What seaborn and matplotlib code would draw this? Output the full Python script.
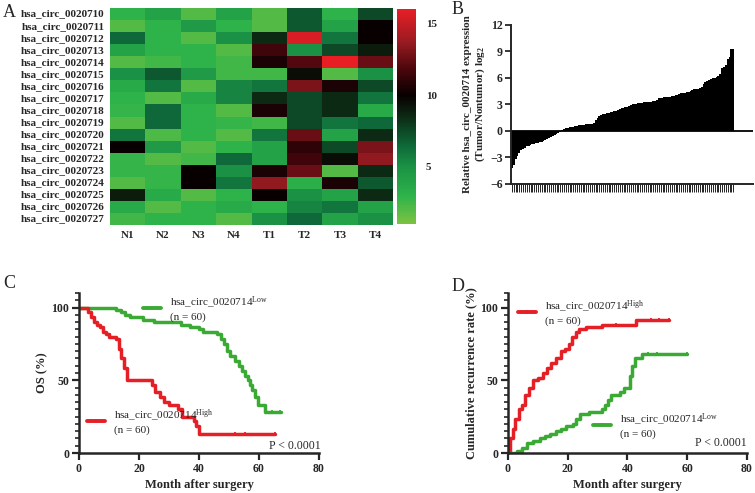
import numpy as np
import pandas as pd
import matplotlib
matplotlib.use("Agg")
import matplotlib.pyplot as plt
import seaborn as sns
from matplotlib.colors import LinearSegmentedColormap
from matplotlib.lines import Line2D
from matplotlib.ticker import MultipleLocator

# ---- data ----
circ_names = ['hsa_circ_00207%02d' % i for i in range(10, 28)]
samples = ['N1', 'N2', 'N3', 'N4', 'T1', 'T2', 'T3', 'T4']
expr = [
    [3.0, 4.0, 2.0, 4.0, 2.0, 7.0, 3.0, 7.5],
    [2.0, 3.0, 4.5, 3.0, 2.0, 7.0, 4.0, 10.0],
    [6.5, 3.0, 2.0, 5.0, 8.5, 15.5, 6.0, 10.0],
    [4.0, 3.0, 3.0, 2.0, 11.5, 5.0, 7.5, 9.0],
    [2.0, 2.5, 3.0, 2.5, 10.5, 12.0, 16.0, 12.5],
    [5.0, 7.0, 4.5, 2.5, 2.5, 9.5, 2.0, 5.0],
    [3.5, 6.0, 2.0, 5.5, 6.0, 13.0, 10.5, 7.5],
    [3.0, 2.0, 3.5, 5.5, 8.5, 7.5, 8.5, 6.0],
    [2.8, 6.5, 3.0, 2.0, 10.5, 7.5, 8.5, 3.5],
    [2.0, 6.5, 3.0, 2.8, 2.5, 7.5, 6.0, 6.5],
    [6.0, 2.2, 3.0, 2.0, 6.0, 12.5, 4.0, 8.5],
    [10.0, 4.5, 2.0, 3.0, 4.0, 11.0, 7.5, 13.0],
    [2.8, 2.0, 2.5, 6.5, 4.0, 11.5, 9.5, 13.5],
    [2.8, 2.8, 10.0, 5.0, 10.5, 12.5, 2.0, 8.5],
    [2.0, 2.8, 10.0, 6.0, 13.5, 3.2, 10.5, 7.0],
    [9.0, 3.5, 2.0, 3.0, 10.0, 5.0, 4.0, 8.5],
    [3.5, 2.0, 3.0, 3.5, 3.0, 5.5, 6.0, 4.0],
    [2.5, 3.0, 3.0, 2.0, 5.0, 6.5, 4.0, 5.0],
]

log2_ratio = [
    -4.2, -3.8, -3.2, -2.8, -2.5, -2.2, -2.0, -1.9, -1.75, -1.65,
    -1.55, -1.5, -1.45, -1.4, -1.35, -1.25, -1.2, -1.1, -1.0, -0.9,
    -0.8, -0.7, -0.55, -0.45, -0.35, -0.25, -0.1, 0.1, 0.2, 0.3,
    0.35, 0.4, 0.45, 0.5, 0.55, 0.6, 0.65, 0.7, 0.7, 0.72,
    0.74, 0.76, 0.78, 0.8, 0.9, 1.2, 1.5, 1.7, 1.85, 1.9,
    1.95, 2.0, 2.05, 2.1, 2.2, 2.25, 2.3, 2.4, 2.5, 2.55,
    2.6, 2.7, 2.75, 2.85, 2.95, 3.0, 3.05, 3.1, 3.15, 3.2,
    3.22, 3.25, 3.27, 3.3, 3.3, 3.32, 3.35, 3.45, 3.55, 3.7,
    3.75, 3.78, 3.8, 3.82, 3.85, 3.9, 3.95, 4.0, 4.05, 4.1,
    4.15, 4.25, 4.3, 4.35, 4.4, 4.45, 4.5, 4.6, 4.7, 4.72,
    4.75, 4.85, 5.0, 5.3, 5.5, 5.65, 5.8, 5.9, 5.95, 6.05,
    6.15, 6.25, 6.4, 7.1, 7.3, 7.5, 8.2, 8.4, 9.3, 9.3,
]

# overall survival (panel C)
os_low_t = [0, 12.5, 14, 15.5, 17, 21.5, 25, 34, 37, 40, 41.5, 46, 47.5, 48.3, 49.2,
            50.5, 52, 53.5, 54.5, 55.3, 56.3, 57, 57.7, 58.7, 59.7, 62, 67.5]
os_low_s = [100, 98.3, 96.7, 95, 93.3, 91.7, 90, 88.3, 86.7, 85, 83.3, 81.7, 78.3, 75, 70,
            66.7, 63.3, 60, 56.7, 53.3, 50, 46.7, 43.3, 38.3, 33.3, 28.3, 28.3]
os_low_cens = [64.5, 67]
os_high_t = [0, 3, 4, 5, 6, 7, 8, 9, 10, 12.5, 13.5, 14, 15, 16, 24.5, 25.5, 27,
             28.5, 30, 33, 34.5, 38.5, 39, 40, 65.3]
os_high_s = [100, 96.7, 93.3, 90, 88.3, 86.7, 83.3, 81.7, 80, 78.3, 71.7, 65, 58.3, 50,
             46.7, 41.7, 38.3, 35, 33.3, 30, 25, 21.7, 18.3, 13.3, 13.3]
os_high_cens = [52, 55.5, 65.3]

# cumulative recurrence (panel D)
rec_high_t = [0, 0.7, 1.8, 2.5, 3.6, 4.7, 5.8, 6.9, 8.5, 10.2, 11.6, 12.9, 14.5, 16.2,
              17.8, 19, 20.5, 21.4, 22.7, 23.8, 26, 31.5, 43, 54]
rec_high_r = [0, 10, 16.7, 23.3, 30, 33.3, 40, 45, 50, 51.7, 55, 58.3, 61.7, 65,
              70, 71.7, 75, 80, 83.3, 85, 86.7, 88.3, 91.7, 91.7]
rec_high_cens = [36, 48, 50.5, 54]
rec_low_t = [0, 3, 4.7, 6.3, 8.5, 10.7, 12.4, 14, 16.2, 17.8, 19.5, 21.6, 22.7, 24, 27,
             31.5, 32.6, 33.5, 34.5, 37.5, 39, 40.8, 41.4, 42.4, 45, 60]
rec_low_r = [0, 1.7, 3.3, 6.7, 8.3, 10, 11.7, 13.3, 15, 16.7, 18.3, 20, 23.3, 26.7, 28.3,
             30, 33.3, 36.7, 40, 41.7, 45, 53.3, 60, 65, 68.3, 68.3]
rec_low_cens = [47, 50, 60]

# ---- style ----
sns.set_style("ticks")
plt.rcParams['font.family'] = ['Liberation Serif', 'DejaVu Serif']
plt.rcParams['mathtext.fontset'] = 'custom'
plt.rcParams['mathtext.rm'] = 'Liberation Serif'
plt.rcParams['mathtext.it'] = 'Liberation Serif:italic'
plt.rcParams['mathtext.bf'] = 'Liberation Serif:bold'

RED = '#e41f26'
GREEN = '#3aaa35'
FS = 8
TFS = 8.5

fig = plt.figure(figsize=(7.55, 4.93), dpi=100)

# ---- A: heatmap ----
heat_cmap = LinearSegmentedColormap.from_list('gkr', [
    (0.00, '#7cc242'), (0.13, '#2eb34a'), (0.27, '#1a9044'), (0.36, '#0f6a3a'),
    (0.50, '#0c2a14'), (0.60, '#080000'), (0.72, '#4a060c'), (0.85, '#9a1b22'),
    (1.00, '#e81e25')])
ax_a = fig.add_axes([0.1457, 0.5436, 0.375, 0.440])
cax = fig.add_axes([0.526, 0.5456, 0.025, 0.436])
df_expr = pd.DataFrame(expr, index=circ_names, columns=samples)
sns.heatmap(df_expr, ax=ax_a, cmap=heat_cmap, vmin=1, vmax=16, cbar_ax=cax,
            xticklabels=samples, yticklabels=circ_names)
ax_a.tick_params(length=0, pad=4)
for lab in ax_a.get_yticklabels():
    lab.set_fontweight('bold'); lab.set_fontsize(FS); lab.set_rotation(0)
for lab in ax_a.get_xticklabels():
    lab.set_fontweight('bold'); lab.set_fontsize(FS)
cax.set_yticks([5, 10, 15])
cax.tick_params(direction='in', color='white', left=True, right=True, length=3,
                width=1, labelsize=FS, pad=7)
for lab in cax.get_yticklabels():
    lab.set_fontweight('bold')
fig.text(0.004, 0.975, 'A', fontsize=13, va='center')

# ---- B: waterfall ----
ax_b = fig.add_axes([0.6768, 0.6268, 0.3205, 0.3225])
pos = np.arange(len(log2_ratio))
sns.barplot(x=pos, y=log2_ratio, color='black', width=1.0, linewidth=0,
            saturation=1, ax=ax_b)
ax_b.axhline(0, color='black', lw=1.3)
ax_b.set_ylim(-6, 12)
ax_b.set_yticks([-6, -3, 0, 3, 6, 9, 12])
ax_b.set_xlim(-0.5, 129.6)
ax_b.set_xticks(pos)
ax_b.set_xticklabels([])
ax_b.tick_params(axis='x', length=6, width=0.7, color='#222222')
ax_b.tick_params(axis='y', length=4, width=1.3, labelsize=TFS, pad=2)
for lab in ax_b.get_yticklabels():
    lab.set_fontweight('bold')
for s in ['top', 'right']:
    ax_b.spines[s].set_visible(False)
ax_b.spines['left'].set_linewidth(1.4)
ax_b.spines['bottom'].set_linewidth(1.4)
ax_b.set_ylabel('Relative hsa_circ_0020714 expression\n(Tumor/Nontumor) log$_\\mathbf{2}$',
                fontsize=FS, fontweight='bold', labelpad=2)
fig.text(0.598, 0.98, 'B', fontsize=13, va='center')


def step_at(ts, vs, x):
    idx = np.searchsorted(ts, x, side='right') - 1
    return np.asarray(vs)[idx]


def km_axes(ax, ylabel):
    ax.set_xlim(0, 80)
    ax.set_ylim(0, 110)
    ax.set_xticks([0, 20, 40, 60, 80])
    ax.set_yticks([0, 50, 100])
    ax.yaxis.set_minor_locator(MultipleLocator(5))
    ax.tick_params(which='major', length=5, width=1.6, labelsize=TFS, pad=2)
    ax.tick_params(which='minor', axis='y', length=3, width=1.2)
    for lab in ax.get_xticklabels() + ax.get_yticklabels():
        lab.set_fontweight('bold')
    for s in ['top', 'right']:
        ax.spines[s].set_visible(False)
    ax.spines['left'].set_linewidth(1.8)
    ax.spines['bottom'].set_linewidth(1.8)
    ax.set_xlabel('Month after surgery', fontsize=9, fontweight='bold', labelpad=3)
    ax.set_ylabel(ylabel, fontsize=9, fontweight='bold', labelpad=2)


def km_line(ax, ts, vs, cens, color):
    sns.lineplot(x=ts, y=vs, drawstyle='steps-post', color=color, lw=2.5, ax=ax)
    ax.plot(cens, step_at(ts, vs, cens), ls='none', marker='|', ms=3.5, mew=1.3, color=color)


def km_legend(ax, color, tag, x, y):
    h = Line2D([0], [0], color=color, lw=2.8, marker='|', ms=3.5, mew=1.3)
    lg = ax.legend([h], ['hsa_circ_0020714$^{\\mathrm{%s}}$\n(n = 60)' % tag],
                   loc='upper left', bbox_to_anchor=(x, y), frameon=False,
                   fontsize=FS, handlelength=1.6, handletextpad=0.8,
                   borderpad=0, borderaxespad=0)
    ax.legend_ = None
    ax.add_artist(lg)


# ---- C: overall survival ----
ax_c = fig.add_axes([0.1046, 0.0811, 0.3179, 0.3245])
km_line(ax_c, os_low_t, os_low_s, os_low_cens, GREEN)
km_line(ax_c, os_high_t, os_high_s, os_high_cens, RED)
km_axes(ax_c, 'OS (%)')
km_legend(ax_c, GREEN, 'Low', 0.267, 0.99)
km_legend(ax_c, RED, 'High', 0.033, 0.285)
ax_c.text(1.008, 0.045, 'P < 0.0001', transform=ax_c.transAxes, ha='right',
          va='center', fontsize=FS + 0.5)
fig.text(0.004, 0.425, 'C', fontsize=13, va='center')

# ---- D: cumulative recurrence ----
ax_d = fig.add_axes([0.6728, 0.0811, 0.3166, 0.3245])
km_line(ax_d, rec_high_t, rec_high_r, rec_high_cens, RED)
km_line(ax_d, rec_low_t, rec_low_r, rec_low_cens, GREEN)
km_axes(ax_d, 'Cumulative recurrence rate (%)')
km_legend(ax_d, RED, 'High', 0.042, 0.965)
km_legend(ax_d, GREEN, 'Low', 0.356, 0.26)
ax_d.text(1.0, 0.06, 'P < 0.0001', transform=ax_d.transAxes, ha='right',
          va='center', fontsize=FS + 0.5)
fig.text(0.598, 0.418, 'D', fontsize=13, va='center')

fig.savefig('out.png', dpi=100)
